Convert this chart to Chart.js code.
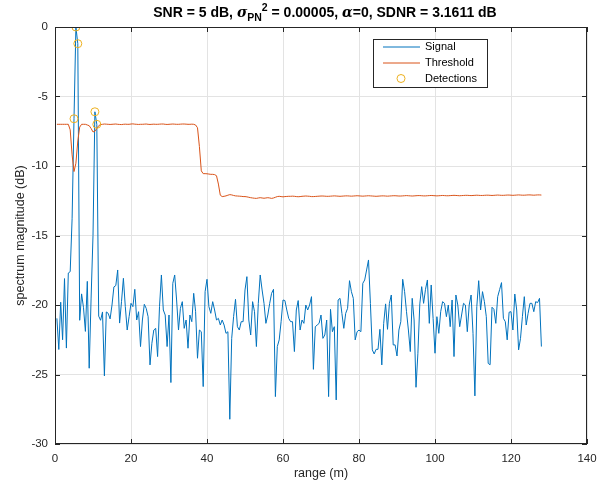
<!DOCTYPE html>
<html><head><meta charset="utf-8">
<style>html,body{margin:0;padding:0;background:#fff}#wrap{position:relative;width:613px;height:491px}</style>
<script src="https://cdn.jsdelivr.net/npm/chart.js@4.4.1/dist/chart.umd.min.js"></script>
</head><body><div id="wrap"><canvas id="c" width="613" height="491"></canvas></div>
<script>
// range samples: first bin and spacing (m)
const rangeStart = 0.5;
const rangeStep = 0.5;

const signalDb = [
-20.96,-23.2,-19.8,-22.5,-18.1,-23.1,-17.7,-17.6,-13.8,-6.6,
0,-1.2,-21.1,-19.2,-20.2,-21.9,-18.3,-24.55,-19.5,-15.0,
-6.1,-7.0,-20.8,-21.1,-20.5,-25.1,-20.5,-20.6,-21.0,-20.0,
-18.7,-18.6,
-17.48,-21.3,-19.76,-18.08,-20.12,-21.8,-20.84,-19.88,-20.12,-18.87,
-21.08,-20.48,-22.99,-21.08,-19.95,-20.24,-20.84,-24.31,-22.75,-21.8,
-21.68,-23.71,-20.12,-17.84,-20.36,-20.72,-22.99,-20.72,-25.58,-18.44,
-17.84,-19.64,-21.8,
-20.24,-19.76,-21.68,-21.08,-23.11,-20.72,-21.2,-19.16,-20.48,-23.83,
-21.8,-21.92,-25.87,-19.04,-18.15,-20.12,-20.6,-19.76,-20.36,-21.08,
-20.96,-21.44,-21.08,-21.44,-22.04,-21.92,-28.22,-22.4,-20.84,-19.59,
-21.56,-21.8,-21.2,
-21.2,-18.92,-17.96,-21.08,-22.16,-19.76,-20.48,-22.99,-19.88,-17.84,
-18.92,-19.88,-21.32,-20.72,-19.88,-19.16,-18.87,-26.59,-22.99,-22.51,
-21.2,-19.64,-19.68,-20.36,-20.96,-21.2,-21.2,-23.35,-20.36,-19.68,
-21.8,-21.08,
-21.32,-20.0,-20.36,-20.0,-19.4,-24.63,-21.56,-21.44,-21.32,-20.72,
-22.4,-22.16,-21.08,-26.59,-20.31,-21.92,-21.56,-26.83,-19.64,-19.52,
-20.6,-21.68,-20.6,-20.24,-18.25,-19.04,-19.52,-22.51,-21.92,-21.8,
-21.92,-18.44,-18.2,
-17.48,-16.76,-19.88,-23.23,-23.52,-23.19,-23.19,-21.75,-24.31,-21.32,
-19.92,-21.75,-19.88,-19.28,-22.87,-22.87,-23.67,-21.8,-21.2,-18.15,
-19.04,-20.48,-21.8,-23.35,-19.52,-21.08,-25.92,-23.47,-19.92,-18.68,
-19.88,-18.87,-18.2,
-21.32,-18.56,-20.96,-23.47,-20.84,-22.04,-20.48,-19.76,-19.88,-20.84,
-20.0,-21.56,-19.64,-23.71,-19.28,-20.0,-21.56,-20.72,-19.88,-20.0,
-21.92,-20.0,-19.28,-22.04,-26.54,-20.12,-18.25,-20.36,-19.04,-19.76,
-20.84,-24.2,
-24.3,-20.16,-20.31,-21.32,-19.4,-18.9,-18.39,-20.96,-21.2,-22.51,
-20.52,-20.48,-21.8,-19.21,-20.36,-23.23,-22.4,-20.84,-19.4,-21.44,
-20.6,-19.88,-19.88,-20.48,-19.76,-19.83,-19.52,-22.99
];

const thresholdDb = [
-7.0,-7.0,-7.0,-7.0,-7.0,-7.0,-7.0,
-7.4,-9.2,-10.4,-9.8,-8.2,-7.2,
-7.0,-7.0,-7.0,-7.05,-7.1,
-7.3,-7.55,-7.5,-7.3,-7.1,
-7.02,-7.0,-6.98,-6.99,-7.0,-7.01,-7.0,-6.99,-6.98,-7.0,
-7.01,-7.02,-7.0,-6.99,-7.0,-7.0,-6.98,-6.97,-6.99,-7.0,
-7.01,-7.0,-7.0,-6.99,-6.98,-7.0,-7.01,-7.0,-6.99,-7.0,
-7.0,-6.99,-6.98,-6.98,-7.0,-7.01,-7.0,-6.99,-6.98,-6.99,
-7.0,-7.0,-6.99,-6.98,-6.98,-6.99,-7.0,-7.0,-6.99,-7.0,
-7.05,
-7.25,-8.6,-10.35,-10.55,
-10.55,-10.56,-10.58,-10.6,-10.6,-10.62,-10.7,
-11.3,-12.1,-12.2,
-12.18,-12.15,-12.1,-12.06,-12.08,-12.12,-12.15,-12.16,-12.17,-12.18,-12.2,-12.2,
-12.22,-12.25,-12.28,-12.3,-12.32,-12.33,-12.3,-12.28,-12.3,-12.32,
-12.3,-12.28,-12.3,-12.33,-12.3,-12.25,-12.2,-12.18,-12.2,-12.22,
-12.2,-12.19,-12.18,-12.18,-12.17,-12.18,-12.2,-12.21,-12.2,-12.18,-12.17,-12.16,-12.17,-12.18,-12.2,-12.2,-12.19,-12.18,-12.17,-12.16,
-12.16,-12.17,-12.18,-12.18,-12.17,-12.16,-12.15,-12.16,-12.17,-12.18,-12.17,-12.16,-12.15,-12.15,-12.16,-12.17,-12.16,-12.15,-12.14,-12.15,
-12.16,-12.17,-12.16,-12.15,-12.14,-12.15,-12.16,-12.17,-12.18,-12.17,-12.16,-12.15,-12.15,-12.16,-12.17,-12.16,-12.15,-12.14,-12.14,-12.15,
-12.16,-12.16,-12.15,-12.14,-12.13,-12.14,-12.15,-12.16,-12.15,-12.14,-12.13,-12.13,-12.14,-12.15,-12.15,-12.14,-12.13,-12.12,-12.13,-12.14,
-12.15,-12.14,-12.13,-12.12,-12.13,-12.14,-12.14,-12.13,-12.12,-12.11,-12.12,-12.13,-12.14,-12.13,-12.12,-12.11,-12.11,-12.12,-12.13,-12.12,
-12.11,-12.1,-12.11,-12.12,-12.12,-12.11,-12.1,-12.1,-12.11,-12.12,-12.11,-12.1,-12.09,-12.1,-12.11,-12.11,-12.1,-12.09,-12.09,-12.1,
-12.11,-12.1,-12.09,-12.08,-12.09,-12.1,-12.1,-12.09,-12.08,-12.08,-12.09,-12.1,-12.09,-12.08,-12.08,-12.09
];

const detectRange = [5.0, 5.5, 6.0, 10.5, 11.0];
const detectDb = [-6.6, 0, -1.2, -6.1, -7.0];

const xTicks = [0, 20, 40, 60, 80, 100, 120, 140];
const yTicks = [0, -5, -10, -15, -20, -25, -30];
const seriesNames = ['Signal', 'Threshold', 'Detections'];
const seriesColors = ['#0072BD', '#D95319', '#EDB120'];

const FONT = '"Liberation Sans", Arial, Helvetica, sans-serif';
const AXC = '#262626';

const signalPts = signalDb.map((v, k) => ({x: rangeStart + k * rangeStep, y: v}));
const thresholdPts = thresholdDb.map((v, k) => ({x: rangeStart + k * rangeStep, y: v}));
const detectPts = detectRange.map((r, k) => ({x: r, y: detectDb[k]}));

const decor = {
  id: 'decor',
  afterDraw(chart) {
    const ctx = chart.ctx, a = chart.chartArea;
    const xs = chart.scales.x, ys = chart.scales.y;
    ctx.save();
    // box
    ctx.strokeStyle = AXC; ctx.lineWidth = 1;
    ctx.strokeRect(Math.round(a.left) + 0.5, Math.round(a.top) + 0.5, Math.round(a.right - a.left) - 1, Math.round(a.bottom - a.top) - 1);
    // inside ticks
    ctx.beginPath();
    xTicks.forEach(t => {
      const px = Math.round(xs.getPixelForValue(t)) + 0.5;
      ctx.moveTo(px, a.bottom); ctx.lineTo(px, a.bottom - 5);
      ctx.moveTo(px, a.top); ctx.lineTo(px, a.top + 5);
    });
    yTicks.forEach(t => {
      const py = Math.round(ys.getPixelForValue(t)) + 0.5;
      ctx.moveTo(a.left, py); ctx.lineTo(a.left + 5, py);
      ctx.moveTo(a.right, py); ctx.lineTo(a.right - 5, py);
    });
    ctx.stroke();

    // axis titles
    ctx.fillStyle = AXC;
    ctx.font = '12.5px ' + FONT;
    ctx.textAlign = 'center'; ctx.textBaseline = 'middle';
    ctx.fillText('range (m)', (a.left + a.right) / 2, 474);
    ctx.save();
    ctx.translate(21, (a.top + a.bottom) / 2);
    ctx.rotate(-Math.PI / 2);
    ctx.fillText('spectrum magnitude (dB)', 0, 0);
    ctx.restore();

    // title with sub/superscripts
    const big = 'bold 14px ' + FONT, small = 'bold 10.5px ' + FONT;
    const segs = [
      {t: 'SNR = 5 dB, ', f: big, dy: 0},
      {t: 'σ', f: 'italic bold 14px "DejaVu Serif", serif', dy: 0},
      {t: 'PN', f: small, dy: 4},
      {t: '2', f: small, dy: -6},
      {t: ' = 0.00005, ', f: big, dy: 0},
      {t: 'α', f: 'italic bold 14px "DejaVu Serif", serif', dy: 0},
      {t: '=0, SDNR = 3.1611 dB', f: big, dy: 0}
    ];
    let total = 0;
    segs.forEach(s => { ctx.font = s.f; s.w = ctx.measureText(s.t).width; total += s.w; });
    let x = 325 - total / 2;
    ctx.textAlign = 'left'; ctx.textBaseline = 'alphabetic';
    ctx.fillStyle = '#000';
    segs.forEach(s => { ctx.font = s.f; ctx.fillText(s.t, x, 17 + s.dy); x += s.w; });

    // legend
    const lx = 373, ly = 39, lw = 114, lh = 48;
    ctx.fillStyle = '#fff';
    ctx.fillRect(lx, ly, lw, lh);
    ctx.strokeStyle = AXC; ctx.lineWidth = 1;
    ctx.strokeRect(lx + 0.5, ly + 0.5, lw, lh);
    const rows = [ly + 8, ly + 24, ly + 39.5];
    ctx.font = '11px ' + FONT; ctx.textBaseline = 'middle'; ctx.textAlign = 'left';
    rows.forEach((ry, k) => {
      ctx.strokeStyle = seriesColors[k];
      if (k < 2) {
        ctx.beginPath(); ctx.moveTo(383, ry); ctx.lineTo(420, ry); ctx.stroke();
      } else {
        ctx.beginPath(); ctx.arc(401, ry, 4, 0, Math.PI * 2); ctx.stroke();
      }
      ctx.fillStyle = '#000';
      ctx.fillText(seriesNames[k], 425, ry);
    });
    ctx.restore();
  }
};

new Chart(document.getElementById('c'), {
  type: 'line',
  data: {
    datasets: [
      {label: seriesNames[0], data: signalPts, borderColor: seriesColors[0], borderWidth: 1, pointRadius: 0, fill: false, tension: 0, order: 3},
      {label: seriesNames[1], data: thresholdPts, borderColor: seriesColors[1], borderWidth: 1, pointRadius: 0, fill: false, tension: 0, order: 2},
      {label: seriesNames[2], data: detectPts, showLine: false, borderColor: seriesColors[2], backgroundColor: 'rgba(0,0,0,0)', pointBorderColor: seriesColors[2], pointBackgroundColor: 'rgba(0,0,0,0)', pointRadius: 4, pointBorderWidth: 1, order: 1}
    ]
  },
  options: {
    responsive: false, animation: false, devicePixelRatio: 1,
    layout: {padding: {top: 27, right: 26, left: 0, bottom: 0}},
    plugins: {legend: {display: false}, tooltip: {enabled: false}, title: {display: false}},
    scales: {
      x: {
        type: 'linear', min: 0, max: 140,
        afterFit: s => { s.height = 47; },
        afterBuildTicks: s => { s.ticks = xTicks.map(v => ({value: v})); },
        ticks: {color: AXC, font: {family: FONT, size: 11.5}, padding: 8, maxRotation: 0},
        grid: {color: '#e3e3e3', drawTicks: false, lineWidth: 1},
        border: {display: false}
      },
      y: {
        type: 'linear', min: -30, max: 0,
        afterFit: s => { s.width = 55; },
        afterBuildTicks: s => { s.ticks = yTicks.map(v => ({value: v})); },
        ticks: {color: AXC, font: {family: FONT, size: 11.5}, padding: 7},
        grid: {color: '#e3e3e3', drawTicks: false, lineWidth: 1},
        border: {display: false}
      }
    }
  },
  plugins: [decor]
});
</script>
</body></html>
